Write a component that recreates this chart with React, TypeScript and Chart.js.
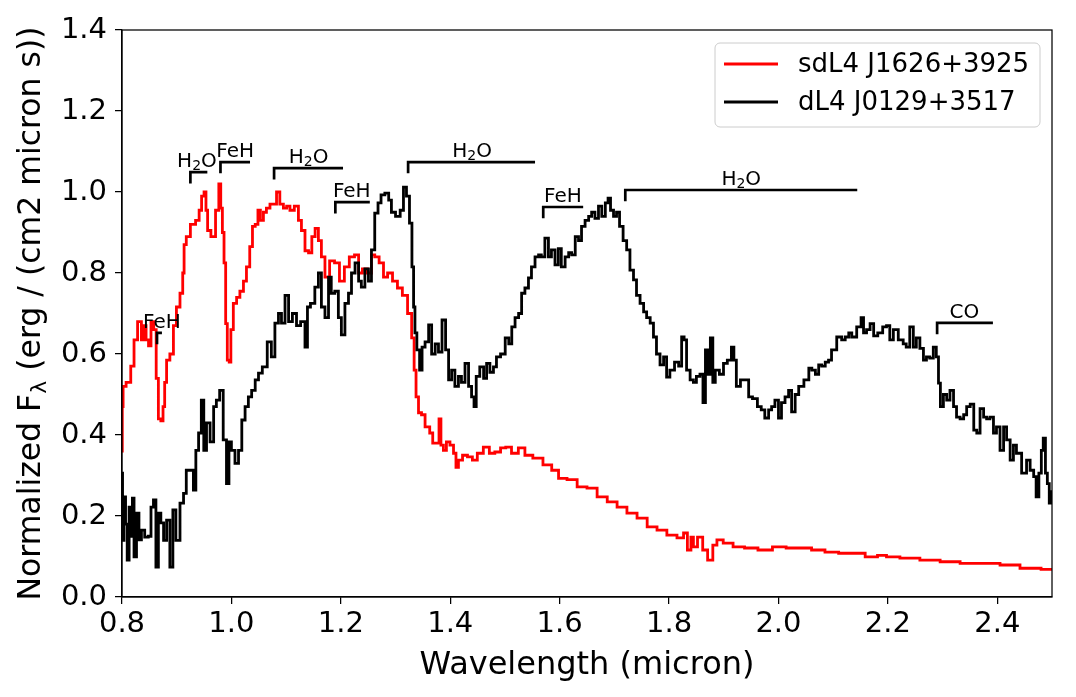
import React, { useEffect, useRef } from "react";
import { Chart, registerables } from "chart.js";

Chart.register(...registerables);

const FONT = "'DejaVu Sans', sans-serif";

// sdL4 J1626+3925 (red)
const redWavelength = [
  0.800, 0.801, 0.803, 0.812, 0.820, 0.824, 0.833, 0.838, 0.842, 0.846, 0.851, 0.855, 0.861, 0.864, 0.869, 0.873,
  0.877, 0.879, 0.884, 0.891, 0.897, 0.902, 0.910, 0.912, 0.915, 0.920, 0.930, 0.939, 0.943, 0.948, 0.952, 0.955,
  0.958, 0.967, 0.975, 0.979, 0.982, 0.985, 0.988, 0.991, 0.994, 0.998, 1.000, 1.007, 1.012, 1.019, 1.025, 1.030,
  1.037, 1.040, 1.047, 1.050, 1.056, 1.061, 1.067, 1.074, 1.080, 1.085, 1.092, 1.098, 1.104, 1.110, 1.120, 1.125,
  1.131, 1.138, 1.144, 1.150, 1.156, 1.162, 1.167, 1.175, 1.184, 1.193, 1.202, 1.211, 1.220, 1.230, 1.235, 1.244,
  1.253, 1.259, 1.265, 1.275, 1.281, 1.290, 1.299, 1.308, 1.317, 1.327, 1.332, 1.336, 1.339, 1.345, 1.350, 1.358,
  1.367, 1.369, 1.378, 1.381, 1.385, 1.390, 1.396, 1.403, 1.409, 1.412, 1.418, 1.427, 1.436, 1.445, 1.454, 1.467,
  1.476, 1.487, 1.497, 1.506, 1.518, 1.531, 1.542, 1.560, 1.579, 1.592, 1.604, 1.623, 1.641, 1.659, 1.678, 1.696,
  1.714, 1.732, 1.751, 1.769, 1.787, 1.805, 1.824, 1.829, 1.838, 1.842, 1.847, 1.857, 1.866, 1.875, 1.885, 1.890,
  1.908, 1.926, 1.950, 1.975, 2.003, 2.025, 2.049, 2.072, 2.098, 2.122, 2.146, 2.171, 2.191, 2.204, 2.240, 2.277,
  2.314, 2.350, 2.387, 2.423, 2.460, 2.500,
];
const redFlux = [
  0.36, 0.47, 0.52, 0.53, 0.57, 0.635, 0.68, 0.635, 0.67, 0.635, 0.62, 0.68, 0.66, 0.54, 0.44, 0.435,
  0.47, 0.53, 0.585, 0.60, 0.67, 0.716, 0.75, 0.80, 0.87, 0.89, 0.92, 0.93, 0.955, 0.99, 1.0, 0.955,
  0.905, 0.89, 0.955, 1.02, 0.96, 0.90, 0.825, 0.675, 0.585, 0.58, 0.66, 0.725, 0.74, 0.755, 0.78, 0.815,
  0.865, 0.915, 0.92, 0.955, 0.93, 0.95, 0.96, 0.97, 0.97, 1.0, 0.97, 0.96, 0.965, 0.955, 0.965, 0.93,
  0.905, 0.855, 0.85, 0.89, 0.91, 0.88, 0.84, 0.79, 0.83, 0.825, 0.78, 0.815, 0.84, 0.845, 0.80, 0.81,
  0.80, 0.845, 0.84, 0.825, 0.79, 0.80, 0.78, 0.763, 0.745, 0.70, 0.64, 0.56, 0.494, 0.455, 0.45, 0.42,
  0.405, 0.38, 0.38, 0.44, 0.375, 0.362, 0.383, 0.375, 0.355, 0.32, 0.338, 0.35, 0.346, 0.338, 0.355, 0.37,
  0.355, 0.358, 0.368, 0.37, 0.355, 0.368, 0.35, 0.343, 0.326, 0.313, 0.293, 0.29, 0.272, 0.269, 0.247, 0.235,
  0.222, 0.207, 0.195, 0.173, 0.165, 0.153, 0.146, 0.158, 0.116, 0.148, 0.124, 0.148, 0.116, 0.091, 0.128, 0.141,
  0.133, 0.124, 0.121, 0.116, 0.124, 0.121, 0.121, 0.116, 0.111, 0.108, 0.108, 0.099, 0.103, 0.099, 0.096, 0.091,
  0.087, 0.083, 0.083, 0.079, 0.071, 0.068,
];

// dL4 J0129+3517 (black)
const blackWavelength = [
  0.800, 0.802, 0.805, 0.808, 0.811, 0.815, 0.818, 0.820, 0.824, 0.829, 0.833, 0.838, 0.845, 0.851, 0.855, 0.860,
  0.864, 0.869, 0.873, 0.879, 0.884, 0.891, 0.895, 0.902, 0.910, 0.915, 0.920, 0.928, 0.933, 0.937, 0.943, 0.947,
  0.952, 0.957, 0.965, 0.970, 0.975, 0.982, 0.988, 0.994, 0.997, 1.003, 1.010, 1.016, 1.022, 1.028, 1.034, 1.040,
  1.047, 1.052, 1.061, 1.070, 1.076, 1.083, 1.089, 1.094, 1.102, 1.107, 1.116, 1.122, 1.131, 1.138, 1.140, 1.149,
  1.156, 1.162, 1.167, 1.175, 1.180, 1.185, 1.193, 1.198, 1.204, 1.211, 1.217, 1.222, 1.230, 1.235, 1.240, 1.248,
  1.253, 1.259, 1.265, 1.271, 1.276, 1.285, 1.290, 1.295, 1.305, 1.312, 1.317, 1.323, 1.328, 1.332, 1.334, 1.337,
  1.341, 1.347, 1.350, 1.358, 1.363, 1.369, 1.376, 1.381, 1.389, 1.394, 1.400, 1.405, 1.412, 1.418, 1.423, 1.431,
  1.436, 1.442, 1.445, 1.450, 1.458, 1.464, 1.469, 1.476, 1.482, 1.487, 1.497, 1.504, 1.510, 1.515, 1.522, 1.528,
  1.533, 1.540, 1.546, 1.551, 1.559, 1.564, 1.569, 1.577, 1.582, 1.588, 1.595, 1.600, 1.606, 1.614, 1.619, 1.625,
  1.632, 1.637, 1.643, 1.650, 1.656, 1.661, 1.668, 1.674, 1.680, 1.687, 1.690, 1.696, 1.701, 1.707, 1.712, 1.720,
  1.725, 1.732, 1.738, 1.743, 1.751, 1.756, 1.762, 1.769, 1.774, 1.780, 1.787, 1.793, 1.798, 1.805, 1.815, 1.820,
  1.826, 1.829, 1.835, 1.842, 1.847, 1.853, 1.860, 1.864, 1.869, 1.873, 1.878, 1.882, 1.887, 1.897, 1.902, 1.911,
  1.917, 1.920, 1.926, 1.935, 1.943, 1.948, 1.957, 1.966, 1.971, 1.979, 1.985, 1.990, 1.997, 2.003, 2.008, 2.016,
  2.021, 2.027, 2.034, 2.040, 2.053, 2.058, 2.064, 2.071, 2.076, 2.082, 2.089, 2.094, 2.100, 2.113, 2.118, 2.126,
  2.131, 2.137, 2.149, 2.153, 2.158, 2.164, 2.171, 2.177, 2.186, 2.195, 2.200, 2.207, 2.213, 2.225, 2.231, 2.236,
  2.244, 2.249, 2.255, 2.262, 2.268, 2.273, 2.280, 2.286, 2.291, 2.294, 2.298, 2.305, 2.310, 2.317, 2.323, 2.328,
  2.336, 2.341, 2.347, 2.354, 2.360, 2.365, 2.372, 2.378, 2.383, 2.390, 2.396, 2.401, 2.409, 2.414, 2.420, 2.427,
  2.432, 2.438, 2.451, 2.456, 2.464, 2.469, 2.473, 2.479, 2.482, 2.486, 2.490, 2.493, 2.497, 2.500,
];
const blackFlux = [
  0.306, 0.14, 0.247, 0.18, 0.091, 0.222, 0.15, 0.244, 0.099, 0.207, 0.141, 0.165, 0.148, 0.15, 0.222, 0.24,
  0.074, 0.207, 0.183, 0.14, 0.19, 0.074, 0.215, 0.14, 0.232, 0.256, 0.313, 0.313, 0.264, 0.362, 0.405, 0.486,
  0.362, 0.43, 0.383, 0.47, 0.486, 0.51, 0.388, 0.28, 0.383, 0.362, 0.33, 0.362, 0.437, 0.47, 0.494, 0.51,
  0.536, 0.553, 0.568, 0.63, 0.593, 0.676, 0.70, 0.676, 0.745, 0.68, 0.70, 0.67, 0.68, 0.617, 0.716, 0.725,
  0.765, 0.80, 0.716, 0.69, 0.79, 0.75, 0.755, 0.69, 0.647, 0.725, 0.75, 0.80, 0.825, 0.78, 0.765, 0.81,
  0.78, 0.857, 0.948, 0.973, 0.993, 0.997, 0.98, 0.95, 0.94, 0.955, 1.012, 0.99, 0.923, 0.815, 0.716, 0.652,
  0.61, 0.56, 0.617, 0.63, 0.672, 0.60, 0.625, 0.605, 0.684, 0.61, 0.536, 0.56, 0.52, 0.545, 0.53, 0.577,
  0.52, 0.494, 0.47, 0.545, 0.568, 0.54, 0.577, 0.555, 0.568, 0.593, 0.60, 0.64, 0.625, 0.667, 0.69, 0.70,
  0.75, 0.763, 0.788, 0.815, 0.84, 0.845, 0.84, 0.886, 0.84, 0.857, 0.82, 0.86, 0.815, 0.84, 0.85, 0.845,
  0.89, 0.88, 0.915, 0.93, 0.94, 0.95, 0.935, 0.965, 0.94, 0.973, 0.985, 0.955, 0.94, 0.95, 0.915, 0.88,
  0.857, 0.807, 0.783, 0.745, 0.725, 0.704, 0.69, 0.676, 0.642, 0.60, 0.573, 0.593, 0.543, 0.56, 0.58, 0.57,
  0.642, 0.635, 0.56, 0.536, 0.53, 0.545, 0.55, 0.48, 0.61, 0.55, 0.64, 0.53, 0.56, 0.55, 0.577, 0.585,
  0.617, 0.585, 0.52, 0.536, 0.536, 0.494, 0.49, 0.47, 0.462, 0.442, 0.462, 0.47, 0.486, 0.442, 0.48, 0.494,
  0.51, 0.457, 0.50, 0.52, 0.536, 0.565, 0.56, 0.55, 0.573, 0.57, 0.58, 0.585, 0.61, 0.642, 0.635, 0.642,
  0.652, 0.642, 0.667, 0.69, 0.652, 0.66, 0.675, 0.645, 0.652, 0.667, 0.67, 0.635, 0.66, 0.635, 0.625, 0.617,
  0.667, 0.617, 0.64, 0.614, 0.585, 0.593, 0.59, 0.617, 0.593, 0.528, 0.47, 0.50, 0.486, 0.51, 0.47, 0.444,
  0.44, 0.45, 0.47, 0.476, 0.412, 0.405, 0.465, 0.444, 0.44, 0.444, 0.405, 0.42, 0.362, 0.42, 0.388, 0.338,
  0.375, 0.355, 0.306, 0.338, 0.313, 0.297, 0.247, 0.306, 0.362, 0.392, 0.306, 0.28, 0.232, 0.26,
];

const seriesNames = ["sdL4 J1626+3925", "dL4 J0129+3517"];
const seriesColors = ["#ff0000", "#000000"];

const xTickValues = [0.8, 1.0, 1.2, 1.4, 1.6, 1.8, 2.0, 2.2, 2.4];
const yTickValues = [0, 0.2, 0.4, 0.6, 0.8, 1.0, 1.2, 1.4];

// Feature annotations (bracket start, end, level in flux units)
const annLabels = ["FeH", "H₂O", "FeH", "H₂O", "FeH", "H₂O", "FeH", "H₂O", "CO"];
const annStart = [0.864, 0.925, 0.980, 1.078, 1.190, 1.323, 1.570, 1.720, 2.290];
const annEnd = [0.873, 0.956, 1.034, 1.204, 1.253, 1.555, 1.643, 2.144, 2.392];
const annLevel = [0.652, 1.049, 1.074, 1.059, 0.975, 1.074, 0.963, 1.005, 0.677];
const annTextX = [0.873, 0.937, 1.007, 1.141, 1.220, 1.440, 1.606, 1.932, 2.340];
const annDrop = 0.028;

// draw label text, rendering "₂" as a real lowered, smaller "2"
function drawLabel(ctx: CanvasRenderingContext2D, text: string, cx: number, base: number) {
  const parts = text.split("₂");
  if (parts.length === 1) {
    ctx.font = `20px ${FONT}`;
    ctx.textAlign = "center";
    ctx.fillText(text, cx, base);
    return;
  }
  ctx.font = `20px ${FONT}`;
  const wA = ctx.measureText(parts[0]).width;
  const wC = ctx.measureText(parts[1]).width;
  ctx.font = `14px ${FONT}`;
  const wB = ctx.measureText("2").width;
  let x = cx - (wA + wB + wC) / 2;
  ctx.textAlign = "left";
  ctx.font = `20px ${FONT}`;
  ctx.fillText(parts[0], x, base);
  x += wA;
  ctx.font = `14px ${FONT}`;
  ctx.fillText("2", x, base + 3);
  x += wB;
  ctx.font = `20px ${FONT}`;
  ctx.fillText(parts[1], x, base);
}

const decorPlugin = {
  id: "decor",
  afterDatasetsDraw(chart: any) {
    const { ctx, scales } = chart;
    const x = scales.x;
    const y = scales.y;
    ctx.save();
    ctx.strokeStyle = "#000";
    ctx.fillStyle = "#000";
    ctx.lineWidth = 2.7;
    ctx.lineCap = "butt";
    ctx.lineJoin = "miter";
    ctx.textBaseline = "alphabetic";
    annLabels.forEach((lab, i) => {
      const x0 = x.getPixelForValue(annStart[i]);
      const x1 = x.getPixelForValue(annEnd[i]);
      const yl = y.getPixelForValue(annLevel[i]);
      const yd = y.getPixelForValue(annLevel[i] - annDrop);
      ctx.beginPath();
      ctx.moveTo(x0, yd);
      ctx.lineTo(x0, yl);
      ctx.lineTo(x1, yl);
      ctx.stroke();
      drawLabel(ctx, lab, x.getPixelForValue(annTextX[i]), yl - 5);
    });
    ctx.restore();
  },
  afterDraw(chart: any) {
    const { ctx, chartArea: a } = chart;
    ctx.save();
    // frame (top and right spines)
    ctx.strokeStyle = "#000";
    ctx.lineWidth = 1.25;
    ctx.strokeRect(a.left, a.top, a.right - a.left, a.bottom - a.top);

    // legend
    const bx = a.right - 337;
    const by = a.top + 13;
    const bw = 325;
    const bh = 84;
    ctx.beginPath();
    ctx.roundRect(bx, by, bw, bh, 5);
    ctx.fillStyle = "rgba(255,255,255,0.8)";
    ctx.fill();
    ctx.strokeStyle = "#cccccc";
    ctx.lineWidth = 1;
    ctx.stroke();
    seriesNames.forEach((name, i) => {
      const yy = by + 21 + i * 38;
      ctx.strokeStyle = seriesColors[i];
      ctx.lineWidth = 2.8;
      ctx.beginPath();
      ctx.moveTo(bx + 9, yy);
      ctx.lineTo(bx + 63, yy);
      ctx.stroke();
      ctx.fillStyle = "#000";
      ctx.font = `26px ${FONT}`;
      ctx.textAlign = "left";
      ctx.textBaseline = "middle";
      ctx.fillText(name, bx + 83, yy + 1);
    });

    // x axis title
    ctx.fillStyle = "#000";
    ctx.font = `32px ${FONT}`;
    ctx.textAlign = "center";
    ctx.textBaseline = "alphabetic";
    ctx.fillText("Wavelength (micron)", (a.left + a.right) / 2, 674);

    // y axis title with subscript lambda
    const p1 = "Normalized F";
    const sub = "λ";
    const p2 = " (erg / (cm2 micron s))";
    const big = 31.5;
    const small = 22;
    ctx.font = `${big}px ${FONT}`;
    const w1 = ctx.measureText(p1).width;
    const w3 = ctx.measureText(p2).width;
    ctx.font = `${small}px ${FONT}`;
    const w2 = ctx.measureText(sub).width;
    const total = w1 + w2 + w3;
    ctx.translate(40, (a.top + a.bottom) / 2);
    ctx.rotate(-Math.PI / 2);
    ctx.textAlign = "left";
    let cx = -total / 2;
    ctx.font = `${big}px ${FONT}`;
    ctx.fillText(p1, cx, 0);
    cx += w1;
    ctx.font = `${small}px ${FONT}`;
    ctx.fillText(sub, cx, 6);
    cx += w2;
    ctx.font = `${big}px ${FONT}`;
    ctx.fillText(p2, cx, 0);
    ctx.restore();
  },
};

export default function App() {
  const canvasRef = useRef<HTMLCanvasElement | null>(null);

  useEffect(() => {
    document.body.style.margin = "0";
    const canvas = canvasRef.current;
    if (!canvas) return;
    const chart = new Chart(canvas, {
      type: "line",
      data: {
        datasets: [
          {
            label: seriesNames[0],
            data: redWavelength.map((w, i) => ({ x: w, y: redFlux[i] })),
            borderColor: seriesColors[0],
            borderWidth: 2.8,
            pointRadius: 0,
            stepped: "middle",
            fill: false,
            order: 2,
          },
          {
            label: seriesNames[1],
            data: blackWavelength.map((w, i) => ({ x: w, y: blackFlux[i] })),
            borderColor: seriesColors[1],
            borderWidth: 2.8,
            pointRadius: 0,
            stepped: "middle",
            fill: false,
            order: 1,
          },
        ],
      },
      options: {
        responsive: false,
        maintainAspectRatio: false,
        devicePixelRatio: 1,
        animation: false,
        events: [],
        layout: { padding: { left: 0, top: 30, right: 24, bottom: 0 } },
        plugins: {
          legend: { display: false },
          tooltip: { enabled: false },
          title: { display: false },
        },
        scales: {
          x: {
            type: "linear",
            min: 0.8,
            max: 2.5,
            afterBuildTicks: (s: any) => {
              s.ticks = xTickValues.map((v) => ({ value: v }));
            },
            afterFit: (s: any) => {
              s.height = 100;
            },
            ticks: {
              color: "#000",
              font: { family: FONT, size: 29 },
              padding: 3,
              maxRotation: 0,
              autoSkip: false,
              callback: (v: any) => Number(v).toFixed(1),
            },
            grid: {
              display: true,
              drawOnChartArea: false,
              drawTicks: true,
              tickLength: 7,
              color: "#000",
              lineWidth: 1.25,
            },
            border: { display: true, color: "#000", width: 1.25 },
          },
          y: {
            type: "linear",
            min: 0,
            max: 1.4,
            afterBuildTicks: (s: any) => {
              s.ticks = yTickValues.map((v) => ({ value: v }));
            },
            afterFit: (s: any) => {
              s.width = 122;
            },
            ticks: {
              color: "#000",
              font: { family: FONT, size: 29 },
              padding: 8,
              autoSkip: false,
              callback: (v: any) => Number(v).toFixed(1),
            },
            grid: {
              display: true,
              drawOnChartArea: false,
              drawTicks: true,
              tickLength: 7,
              color: "#000",
              lineWidth: 1.25,
            },
            border: { display: true, color: "#000", width: 1.25 },
          },
        },
      },
      plugins: [decorPlugin],
    });
    return () => chart.destroy();
  }, []);

  return (
    <div style={{ width: 1076, height: 697 }}>
      <canvas ref={canvasRef} width={1076} height={697} style={{ display: "block" }} />
    </div>
  );
}
